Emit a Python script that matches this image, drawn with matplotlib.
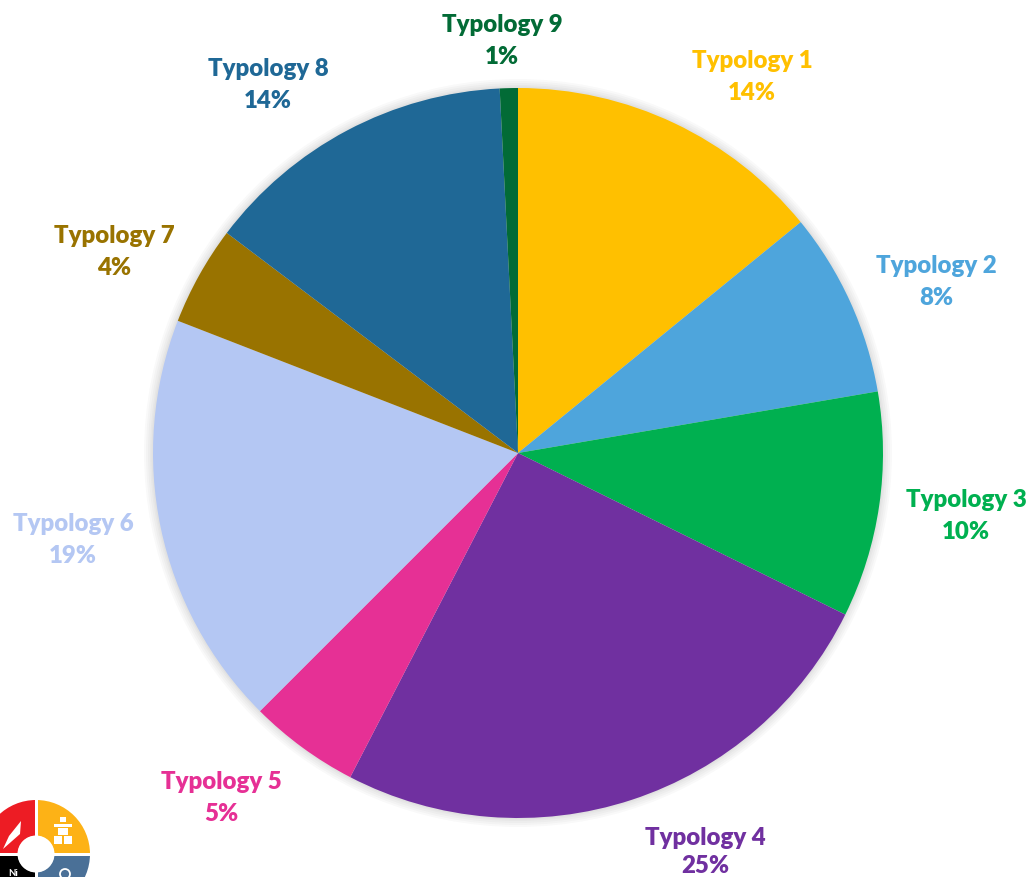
import matplotlib
matplotlib.use('Agg')
import matplotlib.pyplot as plt
from matplotlib.patches import Circle, Polygon, Rectangle, Wedge

# Valores
categories = ['Typology 1', 'Typology 2', 'Typology 3', 'Typology 4', 'Typology 5',
              'Typology 6', 'Typology 7', 'Typology 8', 'Typology 9']
values = [14.1, 8.2, 10.0, 25.3, 4.9, 18.4, 4.4, 13.9, 0.8]
percent_labels = ['14%', '8%', '10%', '25%', '5%', '19%', '4%', '14%', '1%']
colors = ['#FFC000', '#4EA5DC', '#00B050', '#7030A0', '#E63095',
          '#B4C7F3', '#997300', '#1F6896', '#026B36']
label_x = [752, 936, 966, 705, 221, 73, 114, 268, 502]
name_y = [61, 266, 500, 838, 782, 524, 236, 69, 25]
pct_y = [93, 298, 532, 866, 814, 556, 268, 101, 57]

W, H = 1030, 877
plt.rcParams['font.family'] = ['Lato', 'DejaVu Sans']

fig = plt.figure(figsize=(W / 100, H / 100), dpi=100)
ax = fig.add_axes([0, 0, 1, 1])

# Sombra suave detras del pastel
cx, cy, radius = 518, H - 453, 365
for grow in [9, 7, 5, 3, 1.5]:
    ax.add_patch(Circle((cx, cy), radius + grow, color='black', alpha=0.025, lw=0))

ax.pie(values, colors=colors, startangle=90, counterclock=False,
       center=(cx, cy), radius=radius, frame=True,
       wedgeprops={'linewidth': 0})

for name, pct, color, x, y1, y2 in zip(categories, percent_labels, colors, label_x, name_y, pct_y):
    ax.text(x, H - y1, name, color=color, fontsize=17.3, fontweight='heavy', ha='center', va='center')
    ax.text(x, H - y2, pct, color=color, fontsize=17.3, fontweight='heavy', ha='center', va='center')

# Logo de la esquina
lx, ly = 36, H - 854
logo_parts = [(90, 180, '#ED1C24'), (0, 90, '#FDB216'), (270, 360, '#4A7097'), (180, 270, '#000000')]
for start, end, color in logo_parts:
    ax.add_patch(Wedge((lx, ly), 54, start, end, width=36, color=color, lw=0))
ax.add_patch(Rectangle((lx - 1.5, ly - 56), 3, 112, color='white', lw=0))
ax.add_patch(Rectangle((lx - 56, ly - 1.5), 112, 3, color='white', lw=0))
ax.add_patch(Circle((lx, ly), 18.5, color='white', lw=0))
# pluma
ax.add_patch(Polygon([(lx - 33, ly + 5), (lx - 27, ly + 18), (lx - 15, ly + 33), (lx - 16, ly + 20)], color='white', lw=0))
# inukshuk
ax.add_patch(Rectangle((lx + 24, ly + 32), 6, 5, color='white', lw=0))
ax.add_patch(Rectangle((lx + 18, ly + 27), 18, 3, color='white', lw=0))
ax.add_patch(Rectangle((lx + 22, ly + 19), 10, 7, color='white', lw=0))
ax.add_patch(Rectangle((lx + 18, ly + 10), 8, 8, color='white', lw=0))
ax.add_patch(Rectangle((lx + 28, ly + 10), 8, 8, color='white', lw=0))
ax.add_patch(Circle((lx + 29, ly - 20), 5, fill=False, ec='white', lw=1.3))
ax.text(lx - 28, ly - 19, 'Ni', color='white', fontsize=7, fontweight='bold', ha='left', va='center')

ax.set_xlim(0, W)
ax.set_ylim(0, H)
ax.set_aspect('equal')
ax.axis('off')

fig.savefig('out.png', dpi=100, facecolor='white')
